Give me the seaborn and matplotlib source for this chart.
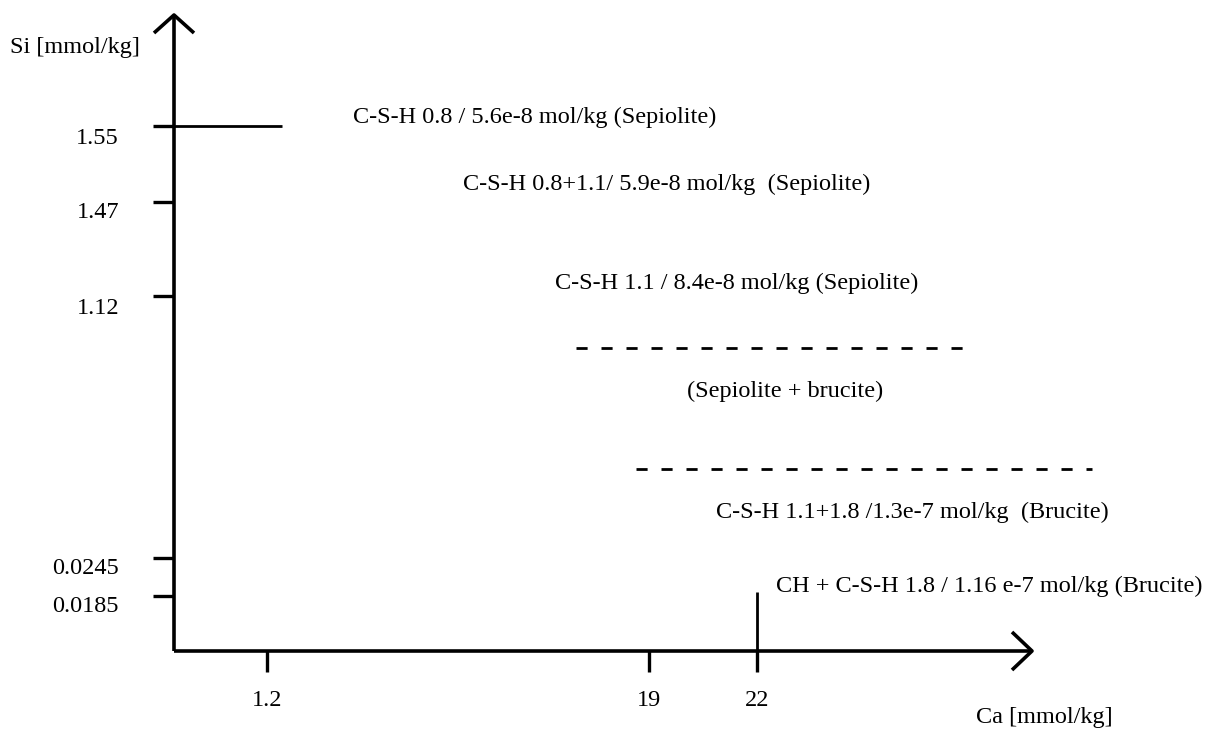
import matplotlib
matplotlib.use("Agg")
import matplotlib.pyplot as plt
import seaborn as sns
import pandas as pd

# ---- data (labels / values) ----
si_ticks = ["1.55", "1.47", "1.12", "0.0245", "0.0185"]
ca_ticks = ["1.2", "19", "22"]
x_title = "Ca [mmol/kg]"
y_title = "Si [mmol/kg]"
region_labels = [
    "C-S-H 0.8 / 5.6e-8 mol/kg (Sepiolite)",
    "C-S-H 0.8+1.1/ 5.9e-8 mol/kg  (Sepiolite)",
    "C-S-H 1.1 / 8.4e-8 mol/kg (Sepiolite)",
    "(Sepiolite + brucite)",
    "C-S-H 1.1+1.8 /1.3e-7 mol/kg  (Brucite)",
    "CH + C-S-H 1.8 / 1.16 e-7 mol/kg (Brucite)",
]

# ---- schematic layout (the original axes are not to scale) ----
W, H = 1212, 729
x0, y0 = 174, 651          # origin
x_end, y_top = 1032, 15    # arrow tips
si_pos = [126, 202, 296, 558, 596]
si_lab_pos = [138, 212, 308, 569, 606]
ca_pos = [267, 649, 757]
label_xy = [(353, 117), (463, 184), (555, 283), (687, 391), (716, 512), (776, 586)]

sns.set_theme(style="white")
plt.rcParams["font.family"] = ["Liberation Serif", "DejaVu Serif"]
fs = 17.5

fig = plt.figure(figsize=(W / 100, H / 100), dpi=100)
ax = fig.add_axes([0, 0, 1, 1])
ax.set_xlim(0, W)
ax.set_ylim(H, 0)
ax.axis("off")

def seg(xs, ys, lw=2.0, dashes=None):
    df = pd.DataFrame({"x": xs, "y": ys})
    sns.lineplot(data=df, x="x", y="y", ax=ax, color="black", lw=lw,
                 sort=False, estimator=None, legend=False)
    l = ax.lines[-1]
    l.set_solid_capstyle("butt")
    if dashes is not None:
        l.set_dashes(dashes)
    return l

# axes
seg([x0, x0], [y0, y_top], lw=2.6)
seg([x0, x_end], [y0, y0], lw=2.6)
# arrow heads
seg([x0 - 20, x0, x0 + 20], [y_top + 18, y_top, y_top + 18], lw=2.6)
seg([x_end - 20, x_end, x_end - 20], [y0 - 19, y0, y0 + 19], lw=2.6)

# y ticks
for p, lp, t in zip(si_pos, si_lab_pos, si_ticks):
    seg([x0 - 21, x0], [p, p], lw=2.4)
    ax.text(119, lp, t, ha="right", va="center", fontsize=fs, color="black")
# x ticks
for p, t in zip(ca_pos, ca_ticks):
    seg([p, p], [y0, y0 + 21], lw=2.4)
    ax.text(p, 700, t, ha="center", va="center", fontsize=fs, color="black")

# boundaries
seg([x0, 282], [si_pos[0], si_pos[0]], lw=2.0)           # solid boundary at Si 1.55
seg([ca_pos[2], ca_pos[2]], [si_pos[4] - 4, y0], lw=2.0)  # vertical boundary at Ca 22
seg([576, 965], [348, 348], lw=2.0, dashes=(4, 5))
seg([636, 1092], [469, 469], lw=2.0, dashes=(4, 5))

# titles
ax.text(10, 47, y_title, ha="left", va="center", fontsize=fs, color="black")
ax.text(1044, 717, x_title, ha="center", va="center", fontsize=fs, color="black")

for (x, y), t in zip(label_xy, region_labels):
    ax.text(x, y, t, ha="left", va="center", fontsize=fs, color="black")

fig.savefig("out.png", dpi=100, facecolor="white")
